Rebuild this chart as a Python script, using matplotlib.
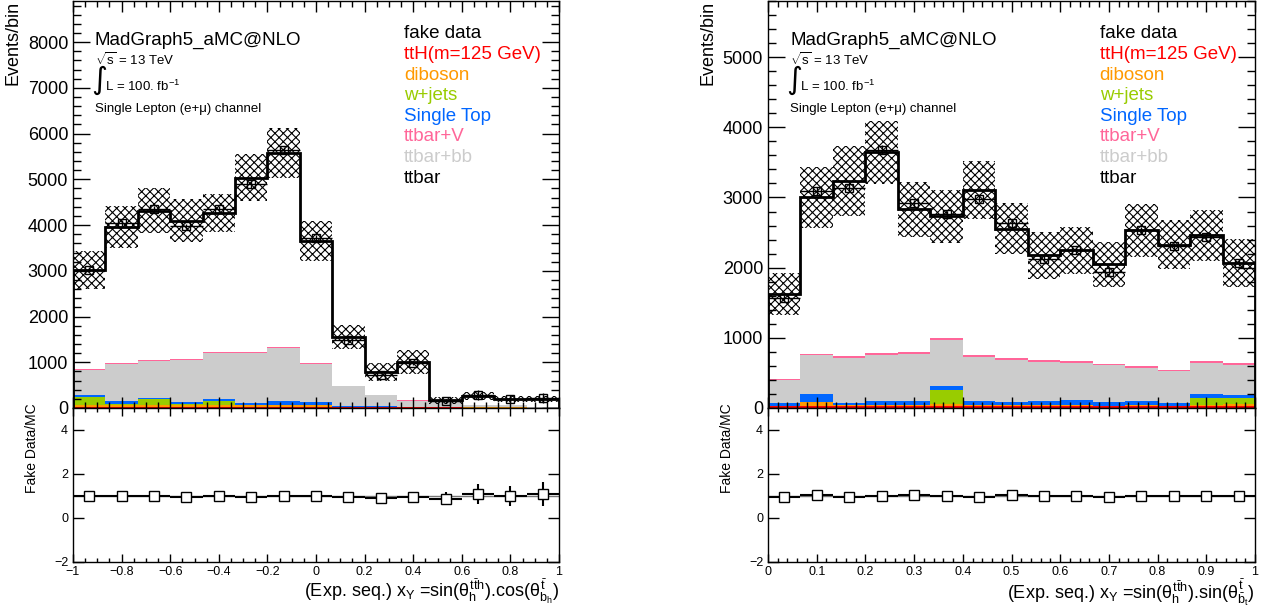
import numpy as np
import matplotlib.pyplot as plt
from matplotlib.ticker import MultipleLocator, FuncFormatter

plt.rcParams['font.family'] = ['Liberation Sans', 'DejaVu Sans']
plt.rcParams['mathtext.fontset'] = 'custom'
plt.rcParams['mathtext.rm'] = 'Liberation Sans'
plt.rcParams['mathtext.it'] = 'Liberation Sans'
plt.rcParams['mathtext.bf'] = 'Liberation Sans:bold'
plt.rcParams['hatch.linewidth'] = 0.8

names = ['ttH(m=125 GeV)', 'diboson', 'w+jets', 'Single Top', 'ttbar+bb', 'ttbar+V', 'ttbar']
fills = ['#ff0000', '#ff9900', '#99cc00', '#0066ff', '#cccccc', '#ff6699', 'white']
legend_names = ['fake data', 'ttH(m=125 GeV)', 'diboson', 'w+jets', 'Single Top',
                'ttbar+V', 'ttbar+bb', 'ttbar']
legend_colors = ['black', '#ff0000', '#ff9900', '#99cc00', '#0066ff', '#ff6699',
                 '#cccccc', 'black']

# ---- left plot: sin(theta_h).cos(theta_bh), 15 bins in [-1, 1]
left_tth = [25, 30, 30, 30, 30, 30, 30, 30, 20, 20, 20, 15, 5, 5, 5]
left_dib = [30, 40, 30, 30, 30, 30, 30, 30, 10, 5, 0, 0, 15, 15, 0]
left_wj = [185, 20, 130, 20, 100, 10, 10, 10, 0, 0, 0, 0, 0, 0, 0]
left_st = [50, 70, 30, 50, 30, 40, 80, 55, 15, 10, 5, 0, 0, 0, 0]
left_ttbb = [537, 798, 818, 923, 1016, 1096, 1159, 833, 429, 242, 133, 110, 40, 40, 20]
left_ttv = [20, 20, 20, 20, 20, 20, 20, 20, 15, 15, 10, 10, 5, 5, 5]
left_ttbar = [2173, 2982, 3252, 3017, 3044, 3814, 4251, 2672, 1061, 498, 842, 35, 195, 135, 170]
left_band = [415, 460, 490, 470, 415, 515, 545, 440, 270, 195, 265, 80, 85, 70, 70]
left_data = [3020, 4040, 4350, 3970, 4355, 4890, 5640, 3720, 1490, 725, 980, 150, 286, 198, 218]
left_derr = [55, 64, 66, 63, 66, 70, 75, 61, 39, 27, 31, 51, 117, 90, 110]

# ---- right plot: sin(theta_h).sin(theta_bt), 15 bins in [0, 1]
right_tth = [25, 25, 30, 30, 30, 30, 35, 30, 30, 30, 30, 30, 30, 30, 30]
right_dib = [0, 60, 10, 10, 10, 30, 10, 10, 10, 10, 5, 10, 5, 10, 20]
right_wj = [0, 0, 0, 0, 0, 190, 0, 0, 0, 0, 0, 0, 0, 105, 90]
right_st = [45, 115, 30, 60, 60, 66, 55, 50, 64, 74, 50, 60, 31, 50, 50]
right_ttbb = [323, 553, 645, 657, 672, 655, 629, 596, 554, 530, 521, 473, 464, 453, 425]
right_ttv = [15, 20, 20, 20, 20, 20, 20, 20, 20, 20, 20, 20, 15, 20, 20]
right_ttbar = [1212, 2227, 2505, 2868, 2038, 1739, 2361, 1849, 1497, 1582, 1421, 1937, 1782, 1792, 1436]
right_band = [300, 430, 500, 450, 390, 375, 415, 360, 335, 330, 320, 375, 350, 365, 340]
right_data = [1570, 3090, 3140, 3680, 2915, 2760, 2985, 2630, 2130, 2246, 1945, 2530, 2305, 2435, 2071]
right_derr = [40, 56, 56, 61, 54, 53, 55, 51, 46, 47, 44, 50, 48, 49, 46]

W, H = 1279, 615
fig = plt.figure(figsize=(W / 100, H / 100), dpi=100)

root_fmt = FuncFormatter(lambda v, pos: ('%g' % round(v, 6)).replace('-', '\u2212'))


def px_rect(x0, x1, y0, y1):
    return [x0 / W, 1 - y1 / H, (x1 - x0) / W, (y1 - y0) / H]


def style(ax, xmaj, xmin, ymaj, ymin, xl, yl, lab=13):
    ax.xaxis.set_major_locator(MultipleLocator(xmaj))
    ax.xaxis.set_minor_locator(MultipleLocator(xmin))
    ax.yaxis.set_major_locator(MultipleLocator(ymaj))
    if ymin:
        ax.yaxis.set_minor_locator(MultipleLocator(ymin))
    ax.xaxis.set_major_formatter(root_fmt)
    ax.tick_params(which='both', direction='in', top=True, right=True, width=1)
    ax.tick_params(axis='x', which='major', length=xl)
    ax.tick_params(axis='x', which='minor', length=xl / 2)
    ax.tick_params(axis='y', which='major', length=yl, labelsize=lab, pad=3.5)
    ax.tick_params(axis='y', which='minor', length=yl / 2)
    for s in ax.spines.values():
        s.set_linewidth(1)


def panel(x0, x1, lo, hi, comps, band, data, derr, ymax, xmaj, xmin, xlabel):
    ax = fig.add_axes(px_rect(x0, x1, 1, 408))
    rx = fig.add_axes(px_rect(x0, x1, 408, 562))
    edges = np.linspace(lo, hi, len(data) + 1)
    centers = 0.5 * (edges[:-1] + edges[1:])
    width = edges[1] - edges[0]

    base = np.zeros(len(data))
    for vals, c in zip(comps, fills):
        top = base + np.array(vals)
        ax.stairs(top, edges, baseline=base, fill=True, color=c, lw=0, zorder=1)
        base = top
    total = base
    ax.bar(centers, 2 * np.array(band), width=width, bottom=total - np.array(band),
           fill=False, hatch='xxxx', edgecolor='black', lw=0, zorder=3)
    ax.stairs(total, edges, color='black', lw=2, zorder=4)
    ax.errorbar(centers, data, xerr=width / 2, yerr=derr, fmt='s', ms=5.5,
                mfc='none', mec='black', mew=1, ecolor='black', elinewidth=1, zorder=5)
    ax.set_xlim(lo, hi)
    ax.set_ylim(0, ymax)
    style(ax, xmaj, xmin, 1000, 200, 8, 12)
    ax.tick_params(labelbottom=False)
    ax.set_ylabel('Events/bin', fontsize=13, loc='top')
    ax.yaxis.set_label_coords(-0.105, 1.0)

    # text block
    tx = 22 / 486
    ax.text(tx, 0.904, 'MadGraph5_aMC@NLO', transform=ax.transAxes, fontsize=13.5, va='center')
    ax.text(tx, 0.855, r'$\sqrt{s}$ = 13 TeV', transform=ax.transAxes, fontsize=9.5, va='center')
    ax.text(tx - 0.008, 0.806, '\u222b', transform=ax.transAxes, fontsize=22, va='center',
            family='DejaVu Sans')
    ax.text(tx + 0.021, 0.791, r'L = 100. fb$^{-1}$', transform=ax.transAxes, fontsize=9.5,
            va='center')
    ax.text(tx, 0.735, 'Single Lepton (e+\u03bc) channel', transform=ax.transAxes,
            fontsize=9.5, va='center')
    for i, (n, c) in enumerate(zip(legend_names, legend_colors)):
        ax.text(0.681, 0.919 - 0.0506 * i, n, transform=ax.transAxes, fontsize=13.5,
                va='center', color=c)

    ratio = np.array(data) / total
    rerr = np.array(derr) / total
    rx.axhline(1, color='#777777', lw=1, zorder=1)
    rx.errorbar(centers, ratio, xerr=width / 2, yerr=rerr, fmt='s', ms=7,
                mfc='white', mec='black', ecolor='black', elinewidth=1.5, zorder=3)
    rx.set_xlim(lo, hi)
    rx.set_ylim(-2, 5)
    style(rx, xmaj, xmin, 2, None, 6, 8, lab=9)
    rx.tick_params(axis='x', labelsize=9, pad=3)
    rx.set_yticks([-2, 0, 2, 4])
    rx.set_ylabel('Fake Data/MC', fontsize=10, loc='top')
    rx.yaxis.set_label_coords(-0.07, 1.03)
    rx.set_xlabel(xlabel, fontsize=13, loc='right')
    rx.xaxis.set_label_coords(1.0, -0.1)


panel(73, 559, -1, 1,
      [left_tth, left_dib, left_wj, left_st, left_ttbb, left_ttv, left_ttbar],
      left_band, left_data, left_derr, 8900, 0.2, 0.05,
      r'(Exp. seq.) x$_{Y}$ =sin($\theta_{h}^{t\bar{t}h}$).cos($\theta_{b_{h}}^{\bar{t}}$)')
panel(768, 1255, 0, 1,
      [right_tth, right_dib, right_wj, right_st, right_ttbb, right_ttv, right_ttbar],
      right_band, right_data, right_derr, 5800, 0.1, 0.02,
      r'(Exp. seq.) x$_{Y}$ =sin($\theta_{h}^{t\bar{t}h}$).sin($\theta_{\bar{b}_{t}}^{\bar{t}}$)')

fig.savefig('out.png', dpi=100)
